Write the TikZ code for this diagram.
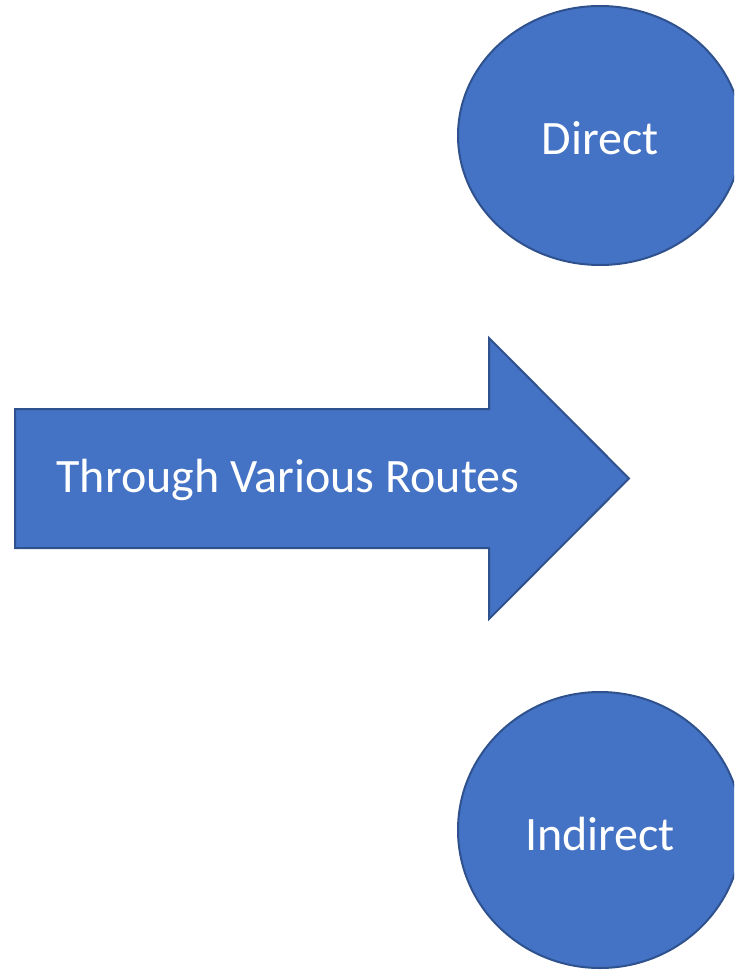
\documentclass[tikz,border=0pt]{standalone}
\usepackage{fontspec}
\setmainfont{Carlito}
\usetikzlibrary{shapes.geometric}
\definecolor{shapefill}{HTML}{4472C4}
\definecolor{shapeline}{HTML}{2F528F}
\tikzset{
  blob/.style={ellipse, fill=shapefill, draw=shapeline, line width=2pt, inner sep=0pt},
  label/.style={text=white, font=\fontsize{48}{57}\selectfont},
}
\begin{document}
\begin{tikzpicture}[x=1pt,y=-1pt]
  \useasboundingbox (0,0) rectangle (734,973);
  \begin{scope}
    \clip (0,0) rectangle (734,973);
    % outcome circles
    \node[blob, minimum width=284pt, minimum height=259pt] (direct) at (600,135.5) {};
    \node[blob, minimum width=284pt, minimum height=276pt] (indirect) at (600,830) {};
    % block arrow
    \draw[fill=shapefill, draw=shapeline, line width=2pt, line join=miter]
      (15,409) -- (489,409) -- (489,338) -- (629,478.5) -- (489,619)
      -- (489,548) -- (15,548) -- cycle;
  \end{scope}
  \node[label] (directtext) at (600,138) {Direct};
  \node[label] (indirecttext) at (600,834) {Indirect};
  \node[label] (routes) at (288,480) {Through Various Routes};
\end{tikzpicture}
\end{document}
